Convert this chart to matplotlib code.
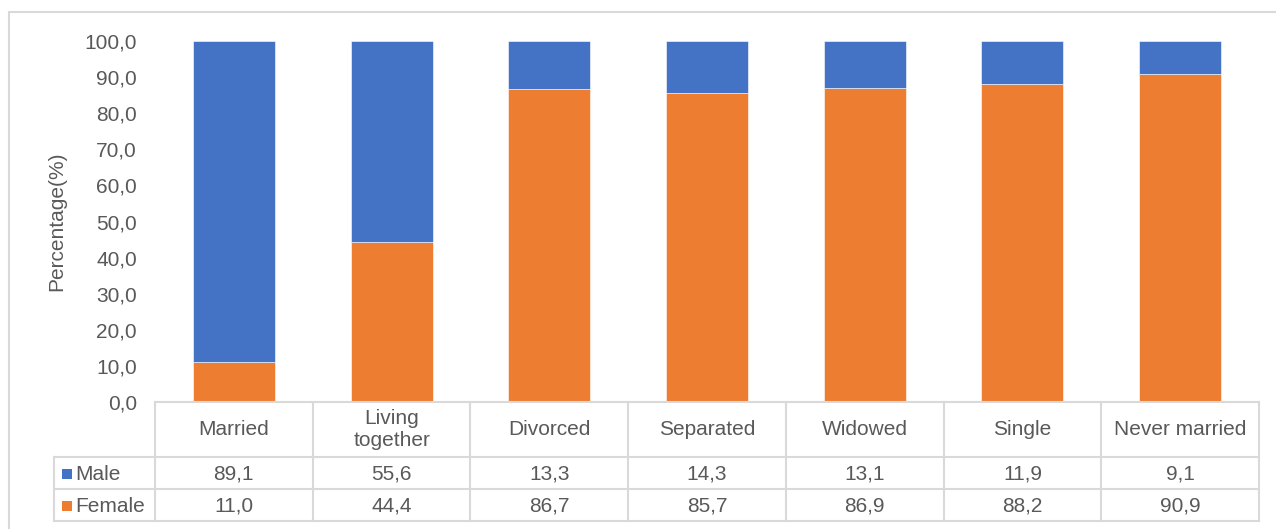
import matplotlib
matplotlib.use("Agg")
import matplotlib.pyplot as plt
from matplotlib.patches import Rectangle

# Marital status breakdown by sex (percent)
categories = ["Married", "Living\ntogether", "Divorced", "Separated",
              "Widowed", "Single", "Never married"]
male = [89.1, 55.6, 13.3, 14.3, 13.1, 11.9, 9.1]
female = [11.0, 44.4, 86.7, 85.7, 86.9, 88.2, 90.9]
series_names = ["Male", "Female"]
yticks = [0, 10, 20, 30, 40, 50, 60, 70, 80, 90, 100]

BLUE = "#4472C4"
ORANGE = "#ED7D31"
TEXT = "#595959"
GRID = "#D9D9D9"
FS = 15

plt.rcParams["font.family"] = ["Liberation Sans", "DejaVu Sans"]

W, H = 1276, 529
fig = plt.figure(figsize=(W / 100, H / 100), dpi=100)


def fx(px):
    return px / W


def fy(py):
    return 1 - py / H


# outer chart border
fig.patches.append(Rectangle((fx(9), fy(540)), fx(1290) - fx(9), fy(12) - fy(540),
                             transform=fig.transFigure, fill=False,
                             edgecolor=GRID, linewidth=1.5))

# plot area
left_px, right_px, top_px, base_px = 155, 1259, 41, 402
ax = fig.add_axes([fx(left_px), fy(base_px), fx(right_px) - fx(left_px),
                   fy(top_px) - fy(base_px)])
n = len(categories)
xs = list(range(n))
bw = 0.52
ax.bar(xs, female, width=bw, color=ORANGE, edgecolor="white", linewidth=0.4)
ax.bar(xs, male, width=bw, bottom=female, color=BLUE, edgecolor="white", linewidth=0.4)
ax.set_xlim(-0.5, n - 0.5)
ax.set_ylim(0, 100)
ax.set_yticks(yticks)
ax.set_yticklabels([f"{v:.1f}".replace(".", ",") for v in yticks])
ax.tick_params(axis="y", length=0, pad=13, labelsize=FS, labelcolor=TEXT)
ax.tick_params(axis="x", bottom=False, labelbottom=False)
for s in ax.spines.values():
    s.set_visible(False)
ax.set_ylabel("Percentage(%)", fontsize=FS, color=TEXT, labelpad=13)

# data table below the plot area
tab_left, tab_bottom = 54, 521
col_w = (right_px - left_px) / n
tax = fig.add_axes([fx(tab_left), fy(tab_bottom), fx(right_px) - fx(tab_left),
                    fy(base_px) - fy(tab_bottom)])
tax.set_xlim(-0.5 - (left_px - tab_left) / col_w, n - 0.5)
tax.set_ylim(tab_bottom, base_px)
tax.axis("off")

row_male, row_female = 457, 489
lw = 1.5
x_leg = -0.5 - (left_px - tab_left) / col_w
# horizontal lines
tax.plot([-0.5, n - 0.5], [base_px, base_px], color=GRID, lw=lw, clip_on=False)
for yy in (row_male, row_female, tab_bottom):
    tax.plot([x_leg, n - 0.5], [yy, yy], color=GRID, lw=lw, clip_on=False)
# vertical lines
tax.plot([x_leg, x_leg], [row_male, tab_bottom], color=GRID, lw=lw, clip_on=False)
for i in range(n + 1):
    tax.plot([i - 0.5, i - 0.5], [base_px, tab_bottom], color=GRID, lw=lw, clip_on=False)

for i, c in enumerate(categories):
    tax.text(i, (base_px + row_male) / 2, c, ha="center", va="center",
             fontsize=FS, color=TEXT, linespacing=1.22)
    tax.text(i, (row_male + row_female) / 2 + 1, f"{male[i]:.1f}".replace(".", ","),
             ha="center", va="center", fontsize=FS, color=TEXT)
    tax.text(i, (row_female + tab_bottom) / 2 + 1, f"{female[i]:.1f}".replace(".", ","),
             ha="center", va="center", fontsize=FS, color=TEXT)

# series keys in the table
for name, color, (y0, y1) in zip(series_names, [BLUE, ORANGE],
                                 [(row_male, row_female), (row_female, tab_bottom)]):
    yc = (y0 + y1) / 2 + 1
    sq = 10
    tax.add_patch(Rectangle((x_leg + 8 / col_w, yc - sq / 2), sq / col_w, sq,
                            facecolor=color, edgecolor="none", clip_on=False))
    tax.text(x_leg + 21 / col_w, yc, name, ha="left", va="center",
             fontsize=FS, color=TEXT)

fig.savefig("out.png", dpi=100)
